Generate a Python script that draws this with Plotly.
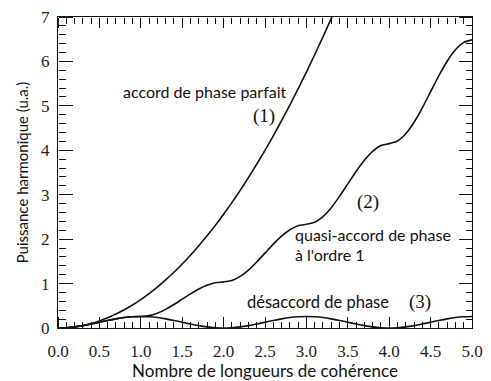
import plotly.graph_objects as go

# x positions (nombre de longueurs de cohérence)
x_full = [0.0, 0.1, 0.2, 0.3, 0.4, 0.5, 0.6, 0.7, 0.8, 0.9,
          1.0, 1.1, 1.2, 1.3, 1.4, 1.5, 1.6, 1.7, 1.8, 1.9,
          2.0, 2.1, 2.2, 2.3, 2.4, 2.5, 2.6, 2.7, 2.8, 2.9,
          3.0, 3.1, 3.2, 3.3, 3.4, 3.5, 3.6, 3.7, 3.8, 3.9,
          4.0, 4.1, 4.2, 4.3, 4.4, 4.5, 4.6, 4.7, 4.8, 4.9, 5.0]
x_perfect = [0.0, 0.1, 0.2, 0.3, 0.4, 0.5, 0.6, 0.7, 0.8, 0.9,
             1.0, 1.1, 1.2, 1.3, 1.4, 1.5, 1.6, 1.7, 1.8, 1.9,
             2.0, 2.1, 2.2, 2.3, 2.4, 2.5, 2.6, 2.7, 2.8, 2.9,
             3.0, 3.1, 3.2, 3.3, 3.4]

# (1) accord de phase parfait
y_perfect = [0.0, 0.006, 0.026, 0.058, 0.102, 0.160, 0.230, 0.314, 0.410, 0.518,
             0.640, 0.774, 0.922, 1.082, 1.254, 1.440, 1.638, 1.850, 2.074, 2.310,
             2.560, 2.822, 3.098, 3.386, 3.686, 4.000, 4.326, 4.666, 5.018, 5.382,
             5.760, 6.150, 6.554, 6.970, 7.398]

# (2) quasi-accord de phase à l'ordre 1
y_qpm = [0.0, 0.006, 0.025, 0.054, 0.090, 0.130, 0.170, 0.206, 0.235, 0.253,
         0.259, 0.278, 0.334, 0.420, 0.528, 0.649, 0.769, 0.877, 0.963, 1.019,
         1.038, 1.069, 1.162, 1.305, 1.486, 1.686, 1.887, 2.067, 2.211, 2.303,
         2.335, 2.379, 2.508, 2.709, 2.962, 3.243, 3.523, 3.776, 3.977, 4.106,
         4.150, 4.208, 4.373, 4.632, 4.957, 5.318, 5.678, 6.004, 6.262, 6.428, 6.485]

# (3) désaccord de phase
y_mismatch = [0.0, 0.006, 0.025, 0.054, 0.090, 0.130, 0.170, 0.206, 0.235, 0.253,
              0.259, 0.253, 0.235, 0.206, 0.170, 0.130, 0.090, 0.054, 0.025, 0.006,
              0.0, 0.006, 0.025, 0.054, 0.090, 0.130, 0.170, 0.206, 0.235, 0.253,
              0.259, 0.253, 0.235, 0.206, 0.170, 0.130, 0.090, 0.054, 0.025, 0.006,
              0.0, 0.006, 0.025, 0.054, 0.090, 0.130, 0.170, 0.206, 0.235, 0.253, 0.259]

x_major = [0.0, 0.5, 1.0, 1.5, 2.0, 2.5, 3.0, 3.5, 4.0, 4.5, 5.0]
y_major = [0, 1, 2, 3, 4, 5, 6, 7]

SERIF = "Liberation Serif"
SANS = "Lato"
INK = "#111111"

fig = go.Figure()
line = dict(color=INK, width=1.6, shape="spline", smoothing=0.6)
fig.add_trace(go.Scatter(x=x_perfect, y=y_perfect, mode="lines", line=line, showlegend=False))
fig.add_trace(go.Scatter(x=x_full, y=y_qpm, mode="lines", line=line, showlegend=False))
fig.add_trace(go.Scatter(x=x_full, y=y_mismatch, mode="lines", line=line, showlegend=False))

# invisible traces so that the tick-only overlay axes are drawn
fig.add_trace(go.Scatter(x=[0], y=[0], xaxis="x2", yaxis="y2", mode="markers",
                         marker=dict(opacity=0), hoverinfo="skip", showlegend=False))
fig.add_trace(go.Scatter(x=[0], y=[0], xaxis="x3", yaxis="y3", mode="markers",
                         marker=dict(opacity=0), hoverinfo="skip", showlegend=False))

annots = [
    dict(x=0.76, y=5.32, text="accord de phase parfait", font=dict(family=SANS, size=16, color=INK), xanchor="left"),
    dict(x=2.49, y=4.77, text="(1)", font=dict(family=SERIF, size=19, color=INK), xanchor="center"),
    dict(x=3.74, y=2.83, text="(2)", font=dict(family=SERIF, size=19, color=INK), xanchor="center"),
    dict(x=2.84, y=2.11, text="quasi-accord de phase", font=dict(family=SANS, size=16, color=INK), xanchor="left"),
    dict(x=2.84, y=1.66, text="à l'ordre 1", font=dict(family=SANS, size=16, color=INK), xanchor="left"),
    dict(x=2.26, y=0.58, text="désaccord de phase", font=dict(family=SANS, size=16.5, color=INK), xanchor="left"),
    dict(x=4.37, y=0.58, text="(3)", font=dict(family=SERIF, size=19, color=INK), xanchor="center"),
]
for a in annots:
    fig.add_annotation(xref="x", yref="y", showarrow=False, yanchor="middle", **a)

def tick_axis(rng, dtick, minor_dtick, major_len, minor_len, side, position, overlay):
    return dict(
        range=rng, tickmode="linear", tick0=0, dtick=dtick,
        ticks="outside", ticklen=major_len, tickwidth=1, tickcolor=INK,
        minor=dict(ticks="outside", dtick=minor_dtick, ticklen=minor_len, tickwidth=1,
                   tickcolor=INK, showgrid=False),
        showticklabels=False, showline=False, showgrid=False, zeroline=False,
        side=side, anchor="free", position=position, overlaying=overlay,
        automargin=False, fixedrange=True,
    )

fig.update_layout(
    width=491, height=381,
    margin=dict(l=58, r=19, t=17, b=53),
    paper_bgcolor="white", plot_bgcolor="white",
    xaxis=dict(
        range=[0, 5], tickmode="array", tickvals=x_major, tickformat=".1f",
        ticks="", showline=True, linecolor=INK, linewidth=1.2, mirror=True,
        showgrid=False, zeroline=False, automargin=False,
        tickfont=dict(family=SERIF, size=17, color="#222222"),
        ticklabelstandoff=7,
        title=dict(text="Nombre de longueurs de cohérence", font=dict(family=SANS, size=17, color=INK), standoff=7),
    ),
    yaxis=dict(
        range=[0, 7], tickmode="array", tickvals=y_major,
        ticks="", showline=True, linecolor=INK, linewidth=1.2, mirror=True,
        showgrid=False, zeroline=False, automargin=False,
        tickfont=dict(family=SERIF, size=17, color="#222222"),
        ticklabelstandoff=4,
        title=dict(text="Puissance harmonique (u.a.)", font=dict(family=SANS, size=15, color=INK), standoff=8),
    ),
    # tick-only axes: a "top" axis placed at the bottom edge points its ticks inward, etc.
    xaxis2=tick_axis([0, 5], 0.5, 0.1, 11, 6, "top", 0, "x"),
    xaxis3=tick_axis([0, 5], 0.5, 0.1, 10, 6, "bottom", 1, "x"),
    yaxis2=tick_axis([0, 7], 1, 0.2, 14, 7, "right", 0, "y"),
    yaxis3=tick_axis([0, 7], 1, 0.2, 13, 6, "left", 1, "y"),
)
fig.write_html("out.html")
